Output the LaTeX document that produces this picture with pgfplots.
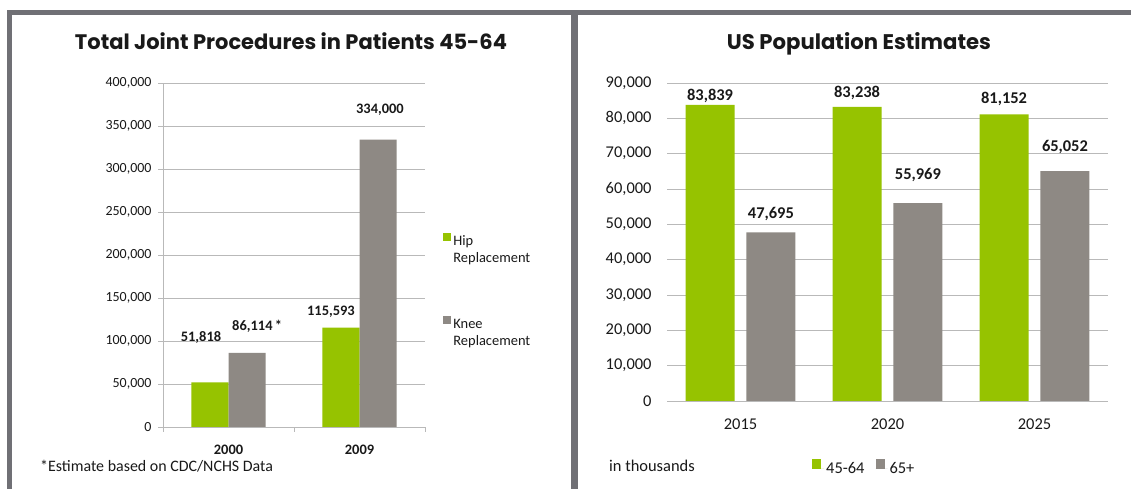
\documentclass[border=0pt]{standalone}
\usepackage{pgfplots}
\pgfplotsset{compat=1.18}
\usepackage{fontspec}
\setmainfont{Carlito}
\newfontfamily\titlefont{Poppins}
\definecolor{bargreen}{RGB}{150,195,0}
\definecolor{bargrey}{RGB}{142,137,132}
\definecolor{framegrey}{RGB}{112,112,117}
\definecolor{gridgrey}{RGB}{185,185,185}
\definecolor{txt}{RGB}{25,25,25}
\begin{document}
\begin{tikzpicture}[x=1bp,y=1bp]
\useasboundingbox[fill=white] (0,0) rectangle (1131,489);
% panel frames
\fill[framegrey] (7,0) rectangle (12,479);
\fill[framegrey] (7,474) rectangle (1131,479);
\fill[framegrey] (571,0) rectangle (578,479);
% titles
\node[anchor=base, text=txt] at (291,439.5) {\resizebox{432bp}{!}{\titlefont\bfseries Total Joint Procedures in Patients 45-64}};
\node[anchor=base, text=txt] at (859,439.5) {\resizebox{264bp}{!}{\titlefont\bfseries US Population Estimates}};
% footnotes
\node[anchor=west, text=txt, font=\fontsize{16}{18}\selectfont, inner sep=0] at (40,23) {*Estimate based on CDC/NCHS Data};
\node[anchor=west, text=txt, font=\fontsize{16.5}{18}\selectfont, inner sep=0] at (609,23) {in thousands};

% ---------------- left chart
\begin{axis}[
  at={(163bp,62bp)}, anchor=south west, scale only axis,
  width=262bp, height=344bp,
  xmin=0, xmax=2, ymin=0, ymax=400000,
  clip=false,
  axis x line*=bottom, axis y line*=left,
  axis line style={gridgrey, line width=0.9bp},
  ytick={0,50000,...,400000},
  scaled y ticks=false,
  yticklabel style={/pgf/number format/fixed, /pgf/number format/1000 sep={,},
     /pgf/number format/assume math mode=true,
     font=\fontsize{14}{16}\selectfont, text=txt, xshift=-3bp},
  ymajorgrids, grid style={gridgrey, line width=0.9bp},
  tick align=outside, major tick length=5bp,
  tick style={gridgrey, line width=0.9bp},
  ytick pos=left, xtick pos=bottom,
  xtick={0,1,2}, xticklabels={},
  extra x ticks={0.5,1.5}, extra x tick labels={2000,2009},
  extra x tick style={major tick length=0bp, grid=none,
     xticklabel style={font=\bfseries\fontsize{14.5}{16}\selectfont, yshift=-15bp}},
  xticklabel style={text=txt},
  legend style={draw=none, fill=none, at={(1.058,0.575)}, anchor=north west,
     font=\fontsize{14.5}{17}\selectfont, text=txt, row sep=57bp,
     legend cell align=left},
  legend image code/.code={\fill[#1] (0bp,3.5bp) rectangle (8bp,11.5bp);},
]
\addplot[ybar, bar width=0.283, bar shift=-0.1415, fill=bargreen, draw=none]
  coordinates {(0.5,51818) (1.5,115593)};
\addlegendentry{\begin{tabular}[c]{@{}l@{}}Hip\\Replacement\end{tabular}}
\addplot[ybar, bar width=0.283, bar shift=0.1415, fill=bargrey, draw=none]
  coordinates {(0.5,86114) (1.5,334000)};
\addlegendentry{\begin{tabular}[c]{@{}l@{}}Knee\\Replacement\end{tabular}}
\begin{scope}[every node/.style={font=\bfseries\fontsize{14.5}{16}\selectfont, text=txt}]
\node at (axis cs:0.29,103500) {51,818};
\node[anchor=west, inner sep=0] at (axis cs:0.527,117450) {86,114\,*};
\node at (axis cs:1.282,133700) {115,593};
\node at (axis cs:1.656,368600) {334,000};
\end{scope}
\end{axis}

% ---------------- right chart
\begin{axis}[
  at={(667bp,88bp)}, anchor=south west, scale only axis,
  width=441bp, height=318bp,
  xmin=0, xmax=3, ymin=0, ymax=90000,
  clip=false,
  axis x line*=bottom, axis y line*=left,
  x axis line style={gridgrey, line width=0.9bp},
  y axis line style={draw=none},
  ytick={0,10000,...,90000},
  scaled y ticks=false,
  yticklabel style={/pgf/number format/fixed, /pgf/number format/1000 sep={,},
     /pgf/number format/assume math mode=true,
     font=\fontsize{16.5}{18}\selectfont, text=txt, xshift=-12bp},
  ymajorgrids, grid style={gridgrey, line width=0.9bp},
  major tick length=0bp,
  ytick pos=left, xtick pos=bottom,
  xtick={0.5,1.5,2.5}, xticklabels={2015,2020,2025},
  xticklabel style={font=\fontsize{16.5}{18}\selectfont, text=txt, yshift=-14bp},
  legend style={draw=none, fill=none, at={(0.322,-0.21)}, anchor=west,
     font=\fontsize{16.5}{18}\selectfont, text=txt, legend columns=2,
     /tikz/every even column/.append style={column sep=9bp}},
  legend image code/.code={\path (0bp,0bp) -- (12bp,0bp); \fill[#1] (0bp,-0.5bp) rectangle (9bp,9.5bp);},
]
\addplot[ybar, bar width=0.333, bar shift=-0.207, fill=bargreen, draw=none]
  coordinates {(0.5,83839) (1.5,83238) (2.5,81152)};
\addlegendentry{45-64}
\addplot[ybar, bar width=0.333, bar shift=0.207, fill=bargrey, draw=none]
  coordinates {(0.5,47695) (1.5,55969) (2.5,65052)};
\addlegendentry{65+}
\begin{scope}[every node/.style={font=\bfseries\fontsize{16.5}{18}\selectfont, text=txt}]
\node at (axis cs:0.293,86315) {83,839};
\node at (axis cs:0.707,52921) {47,695};
\node at (axis cs:1.293,87164) {83,238};
\node at (axis cs:1.707,63958) {55,969};
\node at (axis cs:2.293,85466) {81,152};
\node at (axis cs:2.707,71882) {65,052};
\end{scope}
\end{axis}
\end{tikzpicture}
\end{document}
